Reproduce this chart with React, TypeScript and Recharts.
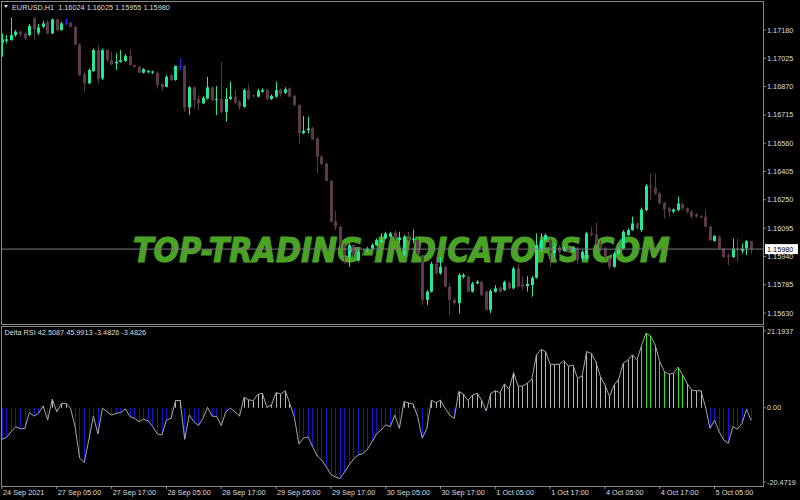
import React from 'react'
import { ComposedChart, Bar, Line, XAxis, YAxis, ReferenceLine } from 'recharts'

// EURUSD H1, 24 Sep 17:00 .. 5 Oct 14:00 (165 bars)
const opens = [
  1.1711, 1.17121, 1.17125, 1.17152, 1.17171, 1.17161, 1.17152, 1.17244, 1.17165, 1.17198,
  1.17225, 1.17161, 1.17238, 1.1718, 1.1722, 1.1722, 1.17198, 1.17101, 1.16939, 1.16888,
  1.16955, 1.1707, 1.16915, 1.1707, 1.17015, 1.16997, 1.17006, 1.1701, 1.17039, 1.16988,
  1.16979, 1.16946, 1.1695, 1.16946, 1.16946, 1.16884, 1.16869, 1.16933, 1.16906, 1.16983,
  1.16983, 1.16756, 1.16866, 1.16802, 1.16778, 1.16805, 1.16866, 1.16796, 1.16802, 1.16732,
  1.16802, 1.16815, 1.16787, 1.1676, 1.16851, 1.16822, 1.16815, 1.16842, 1.16851, 1.16802,
  1.16815, 1.16854, 1.16836, 1.1686, 1.1682, 1.16769, 1.16614, 1.16632, 1.16641, 1.16586,
  1.16486, 1.16449, 1.16354, 1.16134, 1.16103, 1.16002, 1.15937, 1.16002, 1.15919, 1.15965,
  1.15974, 1.15983, 1.16002, 1.1602, 1.16038, 1.16048, 1.1607, 1.16029, 1.15947, 1.16048,
  1.16029, 1.16029, 1.15947, 1.15702, 1.15747, 1.159, 1.15847, 1.15883, 1.15774, 1.15702,
  1.15684, 1.15828, 1.15828, 1.15747, 1.15792, 1.15801, 1.15747, 1.15647, 1.15747, 1.15769,
  1.15756, 1.15796, 1.15765, 1.15874, 1.15787, 1.15778, 1.15783, 1.15823, 1.15974, 1.16029,
  1.16029, 1.15956, 1.15992, 1.1597, 1.15983, 1.1597, 1.15983, 1.15928, 1.15928, 1.16066,
  1.1606, 1.16011, 1.15983, 1.15928, 1.15883, 1.15956, 1.15983, 1.16057, 1.16084, 1.16121,
  1.16084, 1.16194, 1.16327, 1.16318, 1.16285, 1.16234, 1.16203, 1.16185, 1.16194, 1.16226,
  1.16203, 1.16185, 1.16172, 1.16161, 1.16158, 1.16103, 1.16025, 1.16048, 1.15983, 1.15947,
  1.15937, 1.15983, 1.1597, 1.15983, 1.16024,
]
const highs = [
  1.17161, 1.17152, 1.17249, 1.1718, 1.17176, 1.17167, 1.17213, 1.17249, 1.17213, 1.17231,
  1.17234, 1.17244, 1.17244, 1.17225, 1.17244, 1.17225, 1.17202, 1.17107, 1.16952, 1.1697,
  1.17079, 1.17098, 1.17079, 1.17074, 1.17061, 1.17052, 1.1707, 1.17048, 1.17074, 1.16992,
  1.16983, 1.16971, 1.16961, 1.16957, 1.16952, 1.16888, 1.16932, 1.16939, 1.16986, 1.17024,
  1.16988, 1.16873, 1.16873, 1.16824, 1.16818, 1.16924, 1.16873, 1.16873, 1.17003, 1.1686,
  1.16897, 1.16851, 1.16796, 1.16858, 1.16882, 1.16827, 1.16858, 1.1686, 1.16858, 1.16827,
  1.16897, 1.1686, 1.16866, 1.16866, 1.16824, 1.16774, 1.16709, 1.16705, 1.1665, 1.16592,
  1.16495, 1.16453, 1.16358, 1.16188, 1.16106, 1.16011, 1.16011, 1.16007, 1.15974, 1.15983,
  1.15992, 1.16011, 1.16038, 1.16066, 1.16075, 1.16075, 1.16084, 1.16075, 1.16057, 1.16075,
  1.16088, 1.16038, 1.15947, 1.15756, 1.1591, 1.15937, 1.15937, 1.15891, 1.15792, 1.15711,
  1.15847, 1.15847, 1.15832, 1.15801, 1.1581, 1.15807, 1.15756, 1.1576, 1.15783, 1.15774,
  1.15807, 1.15801, 1.15883, 1.159, 1.15828, 1.15832, 1.15832, 1.16066, 1.16066, 1.16066,
  1.16038, 1.16011, 1.16002, 1.15996, 1.15992, 1.15996, 1.15992, 1.15974, 1.16075, 1.16103,
  1.16125, 1.16029, 1.15992, 1.15937, 1.15965, 1.15992, 1.16084, 1.16094, 1.16158, 1.1613,
  1.16208, 1.16336, 1.16395, 1.16391, 1.16294, 1.16239, 1.16212, 1.16203, 1.16267, 1.16234,
  1.16208, 1.16194, 1.16179, 1.16167, 1.16194, 1.1611, 1.16057, 1.16055, 1.15988, 1.15956,
  1.16038, 1.16038, 1.16011, 1.16029, 1.16025,
]
const lows = [
  1.17034, 1.17107, 1.17121, 1.17143, 1.17143, 1.17125, 1.17147, 1.17125, 1.17152, 1.17189,
  1.17158, 1.17158, 1.17176, 1.17176, 1.17207, 1.17194, 1.17098, 1.16928, 1.16842, 1.16884,
  1.16952, 1.16888, 1.16906, 1.17006, 1.16988, 1.16961, 1.17001, 1.17006, 1.16983, 1.16973,
  1.16943, 1.16943, 1.16943, 1.16939, 1.1686, 1.16847, 1.16866, 1.16902, 1.16902, 1.16961,
  1.16732, 1.16714, 1.1675, 1.16741, 1.16774, 1.168, 1.16791, 1.16714, 1.16723, 1.16678,
  1.16796, 1.16774, 1.16741, 1.16754, 1.16796, 1.16811, 1.16811, 1.16836, 1.16796, 1.16796,
  1.16809, 1.16815, 1.16829, 1.16811, 1.16763, 1.16559, 1.1661, 1.16614, 1.16577, 1.16395,
  1.1644, 1.16349, 1.16125, 1.16084, 1.15983, 1.159, 1.15883, 1.15928, 1.1591, 1.15947,
  1.15965, 1.15977, 1.15996, 1.16011, 1.16033, 1.16044, 1.16025, 1.16011, 1.15941, 1.1602,
  1.16011, 1.15947, 1.15674, 1.15674, 1.15742, 1.15838, 1.15841, 1.15769, 1.15619, 1.15674,
  1.15628, 1.15819, 1.15742, 1.15742, 1.15789, 1.15724, 1.15643, 1.15628, 1.15742, 1.15742,
  1.15751, 1.1576, 1.1576, 1.15769, 1.15753, 1.15747, 1.1572, 1.15818, 1.15965, 1.1602,
  1.15883, 1.15937, 1.15919, 1.15965, 1.15956, 1.15965, 1.159, 1.15919, 1.15922, 1.16048,
  1.16002, 1.15965, 1.15919, 1.15869, 1.15878, 1.1595, 1.15977, 1.16051, 1.16081, 1.16084,
  1.16075, 1.16188, 1.16248, 1.16276, 1.16226, 1.16148, 1.16158, 1.16176, 1.16188, 1.16194,
  1.16176, 1.16148, 1.16152, 1.16148, 1.16099, 1.16023, 1.1602, 1.15977, 1.15932, 1.15891,
  1.15932, 1.1591, 1.15956, 1.15947, 1.15955,
]
const closes = [
  1.17129, 1.17129, 1.17152, 1.17171, 1.17156, 1.17134, 1.17202, 1.17183, 1.17194, 1.17216,
  1.17161, 1.17238, 1.1718, 1.17216, 1.1722, 1.17198, 1.17101, 1.16933, 1.16888, 1.16961,
  1.1707, 1.16912, 1.1707, 1.17015, 1.16992, 1.17006, 1.17015, 1.17039, 1.16988, 1.16979,
  1.16946, 1.16966, 1.16955, 1.16953, 1.16878, 1.16866, 1.16924, 1.16906, 1.16983, 1.16983,
  1.16754, 1.16866, 1.16796, 1.16778, 1.16809, 1.16866, 1.16796, 1.16802, 1.16732, 1.16802,
  1.16815, 1.16782, 1.1676, 1.16851, 1.16802, 1.16818, 1.16847, 1.16851, 1.16802, 1.1682,
  1.16851, 1.16829, 1.16856, 1.16815, 1.16769, 1.16614, 1.16628, 1.16641, 1.16581, 1.16486,
  1.16446, 1.16354, 1.1613, 1.16103, 1.16002, 1.15947, 1.16002, 1.15947, 1.15965, 1.15959,
  1.15983, 1.16002, 1.16029, 1.16029, 1.16066, 1.16066, 1.16038, 1.16044, 1.16048, 1.16029,
  1.16038, 1.15956, 1.15702, 1.15747, 1.159, 1.15847, 1.15883, 1.15774, 1.15702, 1.15684,
  1.15838, 1.15838, 1.15747, 1.15792, 1.15801, 1.15729, 1.15647, 1.15751, 1.15765, 1.15747,
  1.15801, 1.15765, 1.15874, 1.15774, 1.15774, 1.15789, 1.15823, 1.16002, 1.16029, 1.16057,
  1.15956, 1.15992, 1.15965, 1.15988, 1.15965, 1.15988, 1.15919, 1.15965, 1.16066, 1.16057,
  1.16011, 1.15983, 1.15937, 1.15883, 1.15956, 1.15983, 1.16075, 1.16084, 1.16121, 1.16094,
  1.16197, 1.16327, 1.16318, 1.16285, 1.1623, 1.16197, 1.16185, 1.16197, 1.1623, 1.16203,
  1.16185, 1.16158, 1.16158, 1.16154, 1.16103, 1.16029, 1.16051, 1.15983, 1.15937, 1.15937,
  1.15983, 1.15974, 1.15983, 1.16024, 1.1598,
]
const deltaRsi = [
  -8.7, -8.2, -6.6, -5.2, -5.8, -5.7, -1.3, -2.3, -1.5, 0.5,
  -3.4, 2.4, -1.1, 1.2, 1.2, -0.1, -5.2, -13.9, -15.1, -8.9,
  -2.3, -7.2, -0.1, -1.1, -2.0, -1.5, -1.3, -0.3, -2.4, -2.9,
  -3.8, -3.2, -3.6, -5.2, -7.2, -7.5, -3.4, -2.9, 2.0, 2.0,
  -8.7, -2.0, -3.8, -4.9, -2.9, 0.1, -2.3, -2.4, -4.9, -1.1,
  -0.1, -1.1, -2.3, 2.9, 2.2, 2.0, 3.7, 4.0, 0.1, 0.8,
  4.2, 3.8, 4.7, 1.2, -2.6, -10.0, -8.4, -8.0, -10.7, -13.3,
  -14.4, -16.3, -18.4, -19.1, -19.5, -17.7, -15.8, -14.1, -13.0, -12.6,
  -11.5, -9.4, -7.2, -6.1, -4.7, -5.2, -2.0, -5.7, 1.7, 1.4,
  1.0, -2.4, -8.4, -5.7, 2.1, 1.4, 2.1, -0.1, -2.0, -2.9,
  4.5, 3.8, 2.0, 3.5, 4.0, 2.1, -0.9, 4.0, 4.7, 4.2,
  6.6, 5.1, 9.7, 6.0, 6.0, 6.8, 7.9, 14.6, 16.1, 15.5,
  12.0, 12.0, 12.0, 13.0, 11.5, 11.8, 8.1, 8.8, 15.5, 15.0,
  12.7, 8.6, 6.3, 3.1, 6.3, 7.9, 12.3, 13.2, 14.6, 13.2,
  17.1, 20.6, 19.8, 17.3, 12.7, 10.0, 9.3, 9.5, 11.2, 9.1,
  6.7, 4.9, 4.7, 4.7, 0.3, -5.7, -3.4, -6.6, -8.9, -9.8,
  -5.2, -5.9, -4.3, -0.4, -3.4826,
]
// bars painted bright green by the indicator
const strongBars = [140, 141, 142, 143, 144, 145, 148, 149]

const timeTicks = [0, 12, 24, 36, 48, 60, 72, 84, 96, 108, 120, 132, 144, 156]
const timeLabels = [
  '24 Sep 2021', '27 Sep 05:00', '27 Sep 17:00', '28 Sep 05:00', '28 Sep 17:00',
  '29 Sep 05:00', '29 Sep 17:00', '30 Sep 05:00', '30 Sep 17:00', '1 Oct 05:00',
  '1 Oct 17:00', '4 Oct 05:00', '4 Oct 17:00', '5 Oct 05:00',
]
const priceTicks = [1.1718, 1.17025, 1.1687, 1.16715, 1.1656, 1.16405, 1.1625, 1.16095, 1.1594, 1.15785, 1.1563]
const rsiTicks = [21.1937, 0, -20.4719]
const lastPrice = 1.1598

const BULL = '#22e89e'
const BEAR = '#5c3a4b'
const DOJI = '#2233ff'
const HIST_UP = '#b8b8b8'
const HIST_DN = '#1414c8'
const HIST_STRONG = '#22ee22'
const TEXT = '#dedede'
const FRAME = '#8a8a8a'
const FONT = '"Liberation Sans", Arial, sans-serif'
const FS = 7.3

const xDomain = [-0.22, 166.6]

const candles = opens.map((o, i) => ({
  i,
  open: o,
  high: highs[i],
  low: lows[i],
  close: closes[i],
  range: [lows[i], highs[i]],
}))
const rsiData = deltaRsi.map((v, i) => ({ i, delta: v }))

function Candle(props: any) {
  const { x, y, width, height, payload } = props
  const top = Math.min(y, y + height)
  const h = Math.abs(height)
  const span = payload.high - payload.low
  const py = (p: number) => (span > 0 ? top + ((payload.high - p) / span) * h : top)
  const c = Math.round(x + width / 2 - 0.5)
  const yo = py(payload.open)
  const yc = py(payload.close)
  const color = payload.close > payload.open ? BULL : payload.close < payload.open ? BEAR : DOJI
  return (
    <g>
      <rect x={c} y={top} width={1} height={Math.max(1, h)} fill={color} />
      <rect x={c - 1} y={Math.min(yo, yc)} width={3} height={Math.max(1, Math.abs(yc - yo))} fill={color} />
    </g>
  )
}

function HistBar(props: any) {
  const { x, y, width, height, payload } = props
  const c = Math.round(x + width / 2 - 0.5)
  const color = payload.delta < 0 ? HIST_DN : strongBars.includes(payload.i) ? HIST_STRONG : HIST_UP
  return <rect x={c} y={Math.min(y, y + height)} width={1} height={Math.abs(height)} fill={color} />
}

function TimeTick(props: any) {
  const { x, y, payload } = props
  const idx = timeTicks.indexOf(payload.value)
  return (
    <text x={x + 1} y={y + 6} fill={TEXT} fontSize={FS} fontFamily={FONT}>
      {timeLabels[idx]}
    </text>
  )
}

function PriceTag(props: any) {
  const vb = props.viewBox
  if (!vb) return null
  const x = vb.x + vb.width + 2
  return (
    <g>
      <rect x={x} y={vb.y - 5} width={33} height={10} fill="#ffffff" />
      <text x={x + 2} y={vb.y + 2.8} fill="#000" fontSize={FS} fontFamily={FONT}>
        {lastPrice.toFixed(5)}
      </text>
    </g>
  )
}

export default function App() {
  const tickStyle = { fill: TEXT, fontSize: FS, fontFamily: FONT }
  return (
    <div style={{ position: 'fixed', left: 0, top: 0, width: 800, height: 500, background: '#000', overflow: 'hidden' }}>
      {/* watermark sits behind the charts */}
      <svg width={800} height={500} style={{ position: 'absolute', left: 0, top: 0 }}>
        <text
          x={133}
          y={262}
          textLength={537}
          lengthAdjust="spacingAndGlyphs"
          fontSize={34}
          fontWeight="bold"
          fontStyle="italic"
          fontFamily='"DejaVu Sans", sans-serif'
          fill="#4aa324"
          stroke="#4aa324"
          strokeWidth={1.2}
        >
          TOP-TRADING-INDICATORS.COM
        </text>
      </svg>

      <div style={{ position: 'absolute', left: 0, top: 0 }}>
        <ComposedChart width={800} height={330} data={candles} margin={{ top: 2, right: 0, bottom: 6, left: 1 }}>
          <XAxis dataKey="i" type="number" domain={xDomain} allowDataOverflow hide />
          <YAxis
            orientation="right"
            width={37}
            domain={[1.155698, 1.173334]}
            allowDataOverflow
            ticks={priceTicks}
            interval={0}
            tickFormatter={(v: number) => v.toFixed(5)}
            axisLine={false}
            tickLine={{ stroke: FRAME }}
            tickSize={3}
            tickMargin={1}
            tick={tickStyle}
          />
          <ReferenceLine y={lastPrice} stroke="#7a7a7a" strokeWidth={1} label={<PriceTag />} />
          <Bar dataKey="range" barSize={3} shape={<Candle />} isAnimationActive={false} />
        </ComposedChart>
      </div>

      <div style={{ position: 'absolute', left: 0, top: 326 }}>
        <ComposedChart width={800} height={174} data={rsiData} margin={{ top: 0, right: 0, bottom: 0, left: 1 }}>
          <XAxis
            dataKey="i"
            type="number"
            domain={xDomain}
            allowDataOverflow
            ticks={timeTicks}
            interval={0}
            height={14}
            axisLine={false}
            tickLine={{ stroke: FRAME }}
            tickSize={3}
            tickMargin={0}
            tick={<TimeTick />}
          />
          <YAxis
            orientation="right"
            width={37}
            domain={[-21.576, 22.573]}
            allowDataOverflow
            ticks={rsiTicks}
            interval={0}
            tickFormatter={(v: number) => (v === 0 ? '0.00' : String(v))}
            axisLine={false}
            tickLine={{ stroke: FRAME }}
            tickSize={3}
            tickMargin={1}
            tick={tickStyle}
          />
          <Bar dataKey="delta" barSize={1} shape={<HistBar />} isAnimationActive={false} />
          <Line dataKey="delta" type="linear" stroke="#a8a8a8" strokeWidth={1} dot={false} isAnimationActive={false} />
        </ComposedChart>
      </div>

      {/* pane frames and header texts */}
      <div style={{ position: 'absolute', left: 1, top: 1, width: 763, height: 324, border: `1px solid ${FRAME}`, boxSizing: 'border-box' }} />
      <div style={{ position: 'absolute', left: 1, top: 326, width: 763, height: 161, border: `1px solid ${FRAME}`, boxSizing: 'border-box' }} />
      <svg width={800} height={500} style={{ position: 'absolute', left: 0, top: 0, pointerEvents: 'none' }}>
        <polygon points="4,5 8,5 6,8" fill={TEXT} />
        <text x={12} y={9.5} fill={TEXT} fontSize={FS} fontFamily={FONT} style={{ whiteSpace: 'pre' }}>
          {'EURUSD,H1  1.16024 1.16025 1.15955 1.15980'}
        </text>
        <text x={4.5} y={334.5} fill={TEXT} fontSize={FS} fontFamily={FONT}>
          Delta RSI 42.5087 45.9913 -3.4826 -3.4826
        </text>
      </svg>
    </div>
  )
}
